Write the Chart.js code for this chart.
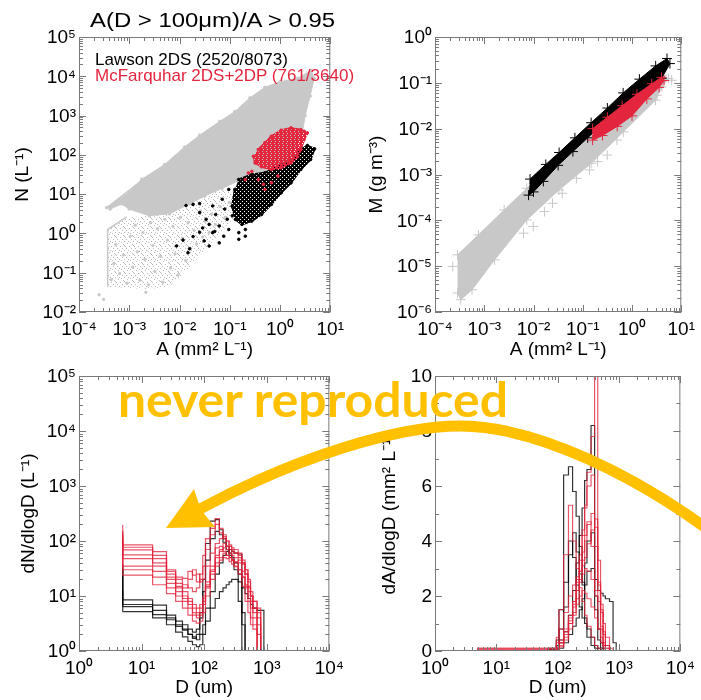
<!DOCTYPE html>
<html>
<head>
<meta charset="utf-8">
<script src="https://cdn.jsdelivr.net/npm/chart.js@4.4.1/dist/chart.umd.min.js"></script>
<style>
html, body { margin: 0; padding: 0; background: #fff; }
#page { position: relative; width: 701px; height: 700px; overflow: hidden; }
#page canvas { position: absolute; }
#overlay { position: absolute; left: 0; top: 0; pointer-events: none; font-family: 'Liberation Sans', Arial, sans-serif; }
</style>
</head>
<body>
<div id="page">
  <canvas id="cNA" width="350" height="365" style="left:0px;top:0px"></canvas>
  <canvas id="cMA" width="351" height="365" style="left:350px;top:0px"></canvas>
  <canvas id="cDN" width="350" height="345" style="left:0px;top:355px"></canvas>
  <canvas id="cDA" width="351" height="345" style="left:350px;top:355px"></canvas>
  <svg id="overlay" width="701" height="700">
    <text x="90" y="27" font-size="21" textLength="245" lengthAdjust="spacingAndGlyphs">A(D &gt; 100μm)/A &gt; 0.95</text>
    <text x="95" y="65" font-size="17">Lawson 2DS (2520/8073)</text>
    <text x="95" y="81" font-size="17" fill="#e3263e">McFarquhar 2DS+2DP (761/3640)</text>
    <path d="M 706 528 C 640 480 540 426 460 426 C 400 426 300 455 200 509" stroke="#FFC000" stroke-width="11" fill="none"/>
    <polygon points="166,528 194,489 201,510 215,527" fill="#FFC000"/>
    <text x="118" y="417" font-family="Lato" font-weight="bold" font-size="47" fill="#FFC000" textLength="390" lengthAdjust="spacingAndGlyphs">never reproduced</text>
  </svg>
</div>
<script>
// tick labels
const aTicks = [1e-4, 1e-3, 1e-2, 1e-1, 1, 10];
const aLabels = ['10⁻⁴', '10⁻³', '10⁻²', '10⁻¹', '10⁰', '10¹'];
const nTicks = [1e-2, 1e-1, 1, 10, 1e2, 1e3, 1e4, 1e5];
const nLabels = ['10⁻²', '10⁻¹', '10⁰', '10¹', '10²', '10³', '10⁴', '10⁵'];
const mTicks = [1e-6, 1e-5, 1e-4, 1e-3, 1e-2, 1e-1, 1];
const mLabels = ['10⁻⁶', '10⁻⁵', '10⁻⁴', '10⁻³', '10⁻²', '10⁻¹', '10⁰'];
const dTicks = [1, 10, 100, 1000, 10000];
const dLabels = ['10⁰', '10¹', '10²', '10³', '10⁴'];
const dnTicks = [1, 10, 100, 1e3, 1e4, 1e5];
const dnLabels = ['10⁰', '10¹', '10²', '10³', '10⁴', '10⁵'];
const daTicks = [0, 2, 4, 6, 8, 10];
const daLabels = ['0', '2', '4', '6', '8', '10'];

// top left: N vs A, pairs are [log10 A, log10 N]
const allNCore = [[-3.45,0.66],[-3.0,1.05],[-2.75,1.38],[-2.3,1.75],[-1.9,2.2],[-1.6,2.5],[-1.2,2.85],[-0.9,3.1],[-0.6,3.45],[-0.3,3.72],[0.0,3.86],[0.35,3.95],[0.62,4.15],[0.68,3.95],[0.6,3.5],[0.5,3.0],[0.45,2.6],[0.2,1.9],[-0.4,1.45],[-0.8,1.35],[-1.15,1.15],[-1.5,0.95],[-1.8,0.75],[-2.2,0.5],[-2.6,0.45],[-3.0,0.62],[-3.15,0.75],[-3.38,0.62]];
const allNSparse = [[-3.43,0.1],[-3.08,0.4],[-2.6,0.45],[-2.2,0.5],[-1.8,0.75],[-1.5,0.95],[-1.15,1.15],[-0.8,1.0],[-0.9,0.4],[-1.2,0.0],[-1.52,-0.47],[-1.85,-0.92],[-2.18,-1.33],[-2.6,-1.42],[-3.43,-1.36]];
const allNEdge = [[-3.05,0.42],[-3.43,0.1],[-3.43,-1.36]];
const allNStreak = [[-3.46,0.64],[-2.8,1.3]];
const allNDots = [[-3.60,-1.56],[-3.51,-1.68],[-2.67,-1.50],[-3.36,-1.18],[-3.31,-0.77],[-3.27,-0.28],[-3.19,-1.02],[-3.12,-0.55],[-3.04,-1.27],[-2.98,-0.08],[-2.93,-0.86],[-2.88,0.21],[-2.84,-0.47],[-2.79,-1.19],[-2.73,0.02],[-2.69,-0.66],[-2.62,-1.31],[-2.58,0.28],[-2.53,-0.31],[-2.49,-0.97],[-2.44,0.12],[-2.38,-0.58],[-2.33,-1.24],[-2.29,0.36],[-2.24,-0.17],[-2.18,-0.88],[-2.13,0.18],[-2.09,-0.52],[-2.03,-1.06],[-1.98,0.41],[-1.94,-0.12],[-1.88,-0.69],[-1.83,0.27],[-1.78,-0.38],[-1.71,0.08],[-1.66,-0.27],[-1.58,0.57],[-1.54,-0.09],[-1.49,0.31],[-1.41,0.03],[-1.36,0.49],[-1.28,0.22],[-1.19,0.68],[-1.09,0.41],[-1.01,0.79],[-0.92,0.58]];
const lawsonNCore = [[-0.823,1.373],[-0.562,1.50],[-0.302,1.542],[-0.042,1.712],[0.219,1.839],[0.414,2.135],[0.544,2.237],[0.688,2.152],[0.609,1.881],[0.414,1.627],[0.219,1.288],[0.023,1.034],[-0.172,0.738],[-0.367,0.483],[-0.562,0.314],[-0.758,0.229],[-0.888,0.356],[-0.953,0.695],[-0.9,1.119]];
const lawsonNDots = [[-2.06,-0.32],[-1.83,-0.49],[-1.80,-0.39],[-1.93,-0.17],[-1.60,0.03],[-1.51,-0.19],[-1.41,-0.32],[-1.34,0.02],[-1.21,0.19],[-1.12,-0.07],[-1.05,0.36],[-1.02,0.10],[-1.28,0.48],[-1.47,0.36],[-1.54,0.14],[-1.73,-0.08],[-1.34,0.70],[-1.87,0.71],[-1.73,0.74],[-1.60,0.76],[-0.82,0.02],[-0.69,0.10],[-1.15,0.87],[-1.02,1.12],[-0.82,-0.15],[-1.60,0.53],[-1.21,-0.24],[-0.69,-0.07],[-1.41,0.23],[-0.95,0.45],[-1.10,0.62],[-0.88,0.85],[-1.30,0.05]];
const mcfNCore = [[-0.432,2.135],[-0.302,2.305],[-0.172,2.474],[0.023,2.627],[0.219,2.686],[0.414,2.643],[0.544,2.559],[0.479,2.389],[0.414,2.135],[0.349,1.949],[0.219,1.796],[0.023,1.669],[-0.172,1.627],[-0.367,1.695],[-0.497,1.796],[-0.53,1.966]];
const mcfNDots = [[-0.63,1.54],[-0.43,1.37],[-0.30,1.12],[-0.69,1.37],[-0.17,1.29],[-0.56,1.58],[0.48,2.60],[-0.04,1.46],[-0.33,1.25]];

// top right: M vs A, pairs are [log10 A, log10 M]
const allMBand = [[-3.542,-4.752],[-3.118,-4.317],[-2.595,-3.773],[-2.137,-3.301],[-1.484,-2.685],[-0.830,-2.104],[-0.176,-1.451],[0.477,-0.944],[0.608,-0.835],[0.739,-0.907],[0.608,-1.089],[0.477,-1.379],[-0.176,-2.068],[-0.830,-2.757],[-1.484,-3.337],[-2.137,-3.99],[-2.791,-4.861],[-3.248,-5.514],[-3.477,-5.731],[-3.542,-5.586]];
const allMPlus = [[-3.64,-5.006],[0.804,-0.944],[0.51,-1.27],[-0.307,-2.249],[-0.503,-2.576],[-0.699,-2.72],[-0.863,-2.90],[-1.124,-3.084],[-1.418,-3.41],[-1.614,-3.628],[-1.778,-3.809],[-2.006,-4.135],[-2.203,-4.281]];
const lawsonMBand = [[-2.07,-3.10],[-1.75,-2.78],[-1.48,-2.52],[-1.16,-2.2],[-0.83,-1.87],[-0.5,-1.55],[-0.18,-1.22],[0.15,-0.92],[0.48,-0.63],[0.71,-0.47],[0.77,-0.58],[0.6,-0.9],[0.3,-1.1],[0.0,-1.35],[-0.3,-1.6],[-0.6,-1.9],[-0.9,-2.2],[-1.2,-2.5],[-1.5,-2.8],[-1.8,-3.15],[-2.0,-3.38],[-2.1,-3.45]];
const mcfMBand = [[-0.8,-2.0],[-0.5,-1.75],[-0.2,-1.5],[0.1,-1.25],[0.4,-1.02],[0.6,-0.88],[0.65,-0.95],[0.55,-1.1],[0.3,-1.35],[0.0,-1.72],[-0.3,-1.95],[-0.6,-2.15],[-0.8,-2.25]];

// size bins (um)
const dEdges = [5,15,25,35,45,55,65,75,85,95,105,125,150,175,200,225,250,275,300,350,400,450,500,550,600,700,800,900,1000];

// bottom left: dN/dlogD (L^-1) per bin, starting at the 5-15 um bin
const lawsonDN = [
  [38,8.5,6.8,4.5,3.5,3.0,2.5,2.2,2.5,5,20,90,230,245,160,110,80,60,45,30,8,0.5],
  [35,7,5.5,4.0,3.0,2.5,2.0,1.8,1.6,2,3,6,12,25,40,55,65,70,65,60,58,5,0.5],
  [30.5,6.4,4.6,3.7,2.8,2.4,2.0,1.7,2.0,4,12,45,110,150,130,95,70,55,50,40,25,3,0.5],
  [12.5,5.2,4.0,3.0,2.2,1.8,1.5,1.3,1.2,1.3,2,3.5,6,9,12,14,16,18,20,20,18,14,11,9,7,6,5.5,5.5]
];
const mcfDN = [
  [195,85,64,30,22,21,28,24,18,20,35,70,130,255,170,120,100,85,75,70,60,40,25,15,10,6,4],
  [154,77,55,28,20,16,14,12,14,25,55,110,170,200,140,110,80,60,45,35,25,15,8,5,3,2.5,2],
  [142,69,48,25,17,14,20,30,25,18,20,35,60,90,110,130,100,80,70,60,55,45,30,18,10,6],
  [128,56,40,22,15,12,9,7,6,7,10,18,30,50,70,90,80,70,65,60,50,40,30,20,12,8,5],
  [107,48,35,20,14,10,8,6,5,6,9,15,25,40,50,60,55,50,45,40,30,22,16,12,10,8,6],
  [97,35,28,17,12,9,7,5,4.5,5,8,16,35,75,80,65,55,50,45,42,45,38,25,14,8,5],
  [91,30,22,14,10,8,6,4.5,4,4.5,7,14,28,55,65,75,70,60,55,50,40,28,15,8,4,3],
  [69,24,16,11,8,6,4.5,3.5,3.2,3.5,5,10,20,35,45,50,48,42,38,34,30,22,14,9,6,4,3]
];

// bottom right: dA/dlogD (mm2 L^-1) per bin, starting at the 95-105 um bin
const lawsonDA = [
  [0.1,0.4,1.5,6.4,6.7,5.8,4.9,3.8,2.5,1.2,0.5,0.2,0.1,0,0,0,0,0,0],
  [0.05,0.1,0.3,0.7,1.3,2.2,3.2,4.2,5.2,6.2,6.6,8.2,1.5,0.4,0.1,0,0,0,0],
  [0,0.1,0.4,1.6,3.5,4.3,3.6,2.8,2.4,3.2,4.0,4.3,2.0,0.8,0.3,0.1,0,0,0],
  [0,0.05,0.1,0.3,0.6,0.9,1.2,1.5,1.9,2.4,2.9,3.0,2.6,2.2,2.1,2.0,1.9,1.8,0.3],
  [0.05,0.2,0.8,2.5,4.0,3.4,2.4,1.6,1.2,1.0,0.8,0.5,0.2,0.1,0,0,0,0,0]
];
const mcfDA = [
  [0,0.1,0.3,0.7,1.2,1.8,2.5,3.3,4.2,5.2,6.5,7.8,12,2.5,0.8,0.2,0,0,0],
  [0.1,0.5,1.5,3.5,5.3,4.0,3.0,2.3,1.8,1.3,0.9,0.5,0.2,0.1,0,0,0,0,0],
  [0,0.1,0.2,0.5,1.0,1.7,2.6,3.5,4.4,5.3,6.0,6.4,4.5,2.2,0.9,0.3,0.1,0,0],
  [0,0.05,0.15,0.4,0.8,1.3,1.9,2.6,3.3,4.0,4.6,5.0,3.8,2.4,1.5,0.7,0.2,0,0],
  [0.05,0.15,0.4,0.8,1.3,1.8,2.2,2.5,2.8,3.0,2.9,2.6,2.2,1.8,1.4,1.0,0.5,0.1,0],
  [0,0.1,0.3,0.6,1.0,1.4,1.7,2.0,2.2,2.1,1.9,1.6,1.2,0.8,0.5,0.2,0.1,0,0],
  [0,0.1,0.3,0.7,1.1,1.6,2.2,2.9,3.6,4.2,4.7,3.8,2.0,0.8,0.3,0.1,0,0,0],
  [0.1,0.3,0.8,1.4,2.0,2.4,2.7,2.9,3.1,3.4,3.9,4.4,4.8,3.3,1.7,0.6,0.2,0,0]
];
const areaFirstBin = 9;          // index of the 95 um edge
const mcfSpan = [5, 6000];       // zero line extent of the red curves
const lawsonSpan = [70, 1300];

const GRAY = '#c8c8c8', BLACK = '#000000', RED = '#e3263e';
const TXT = "'Liberation Sans', Arial, sans-serif";

// small repeating dot textures so filled clouds read as scattered points
function speckle(color, size, cells) {
  const c = document.createElement('canvas');
  c.width = c.height = size;
  const g = c.getContext('2d');
  g.fillStyle = color;
  cells.forEach(p => g.fillRect(p[0], p[1], 1, 1));
  return g.createPattern(c, 'repeat');
}
const sparseTex = speckle('#bababa', 9, [[1,0],[6,1],[3,3],[8,3],[0,5],[5,5],[2,7],[7,7],[4,8],[7,2]]);
const blackTex = speckle(BLACK, 4, [[0,0],[1,0],[2,0],[3,0],[0,1],[1,1],[3,1],[0,2],[1,2],[2,2],[3,2],[1,3],[2,3],[3,3]]);
const redTex = speckle(RED, 4, [[0,0],[1,0],[2,0],[3,0],[0,1],[1,1],[2,1],[0,2],[1,2],[2,2],[3,2],[0,3],[1,3],[3,3]]);

function logPts(pairs) { return pairs.map(p => ({ x: 10 ** p[0], y: 10 ** p[1] })); }

function blob(pairs, fillStyle, color, order, style, r, bw) {
  return { data: logPts(pairs), showLine: true, fill: 'shape', backgroundColor: fillStyle, borderColor: fillStyle,
    borderWidth: bw, pointStyle: style, pointRadius: r, pointBackgroundColor: color, pointBorderColor: color,
    pointBorderWidth: 1, order };
}
function dots(pairs, color, order, style, r) {
  return { data: logPts(pairs), showLine: false, pointStyle: style, pointRadius: r,
    pointBackgroundColor: color, pointBorderColor: color, pointBorderWidth: 1, order };
}
function edge(pairs, color, order) {
  return { data: logPts(pairs), showLine: true, borderColor: color, borderWidth: 1.5, pointRadius: 0, order };
}

function stepsN(vals) {
  const d = vals.map((v, i) => ({ x: dEdges[i], y: v }));
  d.push({ x: dEdges[vals.length], y: 0.01 });
  return d;
}
function stepsA(vals, span) {
  const e = dEdges.slice(areaFirstBin);
  const d = [{ x: span[0], y: 0 }];
  vals.forEach((v, i) => d.push({ x: e[i], y: v }));
  d.push({ x: e[vals.length], y: 0 });
  d.push({ x: span[1], y: 0 });
  return d;
}
function histo(data, color, order) {
  return { data, showLine: true, stepped: 'after', borderColor: color, borderWidth: 1.2, pointRadius: 0, order };
}

function logMinors(lo, hi) {
  const out = [];
  for (let e = lo; e < hi; e++) for (let k = 2; k <= 9; k++) out.push(k * 10 ** e);
  return out;
}

// closed frame with inward ticks on all four sides
const boxTicks = {
  id: 'boxTicks',
  afterDatasetsDraw(chart, args, o) {
    const { ctx, chartArea: a } = chart;
    const sx = chart.scales.x, sy = chart.scales.y;
    ctx.save();
    ctx.strokeStyle = '#7a7a7a';
    ctx.lineWidth = 1;
    ctx.beginPath();
    const mark = (list, len, horiz) => list.forEach(v => {
      if (horiz) {
        const p = Math.round(sx.getPixelForValue(v)) + 0.5;
        ctx.moveTo(p, a.bottom); ctx.lineTo(p, a.bottom - len);
        ctx.moveTo(p, a.top); ctx.lineTo(p, a.top + len);
      } else {
        const p = Math.round(sy.getPixelForValue(v)) + 0.5;
        ctx.moveTo(a.left, p); ctx.lineTo(a.left + len, p);
        ctx.moveTo(a.right, p); ctx.lineTo(a.right - len, p);
      }
    });
    mark(o.xMajor, 7, true); mark(o.xMinor, 4, true);
    mark(o.yMajor, 7, false); mark(o.yMinor, 4, false);
    ctx.stroke();
    ctx.strokeRect(a.left + 0.5, a.top + 0.5, a.right - a.left - 1, a.bottom - a.top - 1);
    ctx.restore();
  }
};

function axis(spec, horiz, frame) {
  return {
    type: spec.type, min: spec.min, max: spec.max, position: horiz ? 'bottom' : 'left',
    afterFit: s => { if (horiz) s.height = frame.xh; else s.width = frame.yw; },
    afterBuildTicks: s => { s.ticks = spec.vals.map(v => ({ value: v })); },
    grid: { display: false, drawTicks: false },
    border: { display: false },
    ticks: { autoSkip: false, maxRotation: 0, minRotation: 0, color: '#000',
      padding: horiz ? 6 : 3, labelOffset: horiz ? 0 : 1,
      font: { family: TXT, size: 19 }, callback: (v, i) => spec.labels[i] },
    title: { display: true, text: spec.title, color: '#000', font: { family: TXT, size: 19 },
      padding: horiz ? { top: 0, bottom: frame.tb } : { top: frame.tl, bottom: 0 } }
  };
}

function panel(id, datasets, xs, ys, frame, ticks) {
  return new Chart(document.getElementById(id), {
    type: 'scatter',
    data: { datasets },
    options: {
      responsive: false, animation: false, events: [],
      layout: { autoPadding: false, padding: frame.pad },
      plugins: { legend: { display: false }, tooltip: { enabled: false }, boxTicks: ticks },
      scales: { x: axis(xs, true, frame), y: axis(ys, false, frame) }
    },
    plugins: [boxTicks]
  });
}

const aAxis = { type: 'logarithmic', min: 1e-4, max: 10, vals: aTicks, labels: aLabels, title: 'A (mm² L⁻¹)' };
const dAxis = { type: 'logarithmic', min: 1, max: 1e4, vals: dTicks, labels: dLabels, title: 'D (um)' };

panel('cNA', [
  blob(mcfNCore, redTex, RED, 0, 'circle', 1.3, 2),
  dots(mcfNDots, RED, 0, 'circle', 1.3),
  blob(lawsonNCore, blackTex, BLACK, 1, 'circle', 1.3, 2),
  dots(lawsonNDots, BLACK, 1, 'circle', 1.3),
  dots(allNDots, GRAY, 3, 'circle', 1.2),
  edge(allNStreak, GRAY, 3),
  edge(allNEdge, GRAY, 3),
  blob(allNCore, GRAY, GRAY, 4, 'circle', 1.3, 1),
  blob(allNSparse, sparseTex, GRAY, 5, 'circle', 0, 0)
], aAxis,
{ type: 'logarithmic', min: 1e-2, max: 1e5, vals: nTicks, labels: nLabels, title: 'N (L⁻¹)' },
{ pad: { left: 0, top: 37, right: 15, bottom: 0 }, yw: 79, xh: 53, tl: 11.6, tb: 3.6 },
{ xMajor: aTicks, xMinor: logMinors(-4, 1), yMajor: nTicks, yMinor: logMinors(-2, 5) });

panel('cMA', [
  blob(mcfMBand, RED, RED, 0, 'cross', 5, 1),
  blob(lawsonMBand, BLACK, BLACK, 1, 'cross', 5, 1),
  dots(allMPlus, GRAY, 2, 'cross', 5),
  blob(allMBand, GRAY, GRAY, 3, 'cross', 5, 1)
], aAxis,
{ type: 'logarithmic', min: 1e-6, max: 1, vals: mTicks, labels: mLabels, title: 'M (g m⁻³)' },
{ pad: { left: 0, top: 37, right: 11, bottom: 0 }, yw: 85, xh: 53, tl: 15.6, tb: 3.6 },
{ xMajor: aTicks, xMinor: logMinors(-4, 1), yMajor: mTicks, yMinor: logMinors(-6, 0) });

panel('cDN', [
  ...mcfDN.map(v => histo(stepsN(v), 'rgba(226,30,55,0.75)', 0)),
  ...lawsonDN.map(v => histo(stepsN(v), 'rgba(0,0,0,0.8)', 1))
], dAxis,
{ type: 'logarithmic', min: 1, max: 1e5, vals: dnTicks, labels: dnLabels, title: 'dN/dlogD (L⁻¹)' },
{ pad: { left: 0, top: 21, right: 16, bottom: 0 }, yw: 79, xh: 49, tl: 17.6, tb: 1 },
{ xMajor: dTicks, xMinor: logMinors(0, 4), yMajor: dnTicks, yMinor: logMinors(0, 5) });

panel('cDA', [
  ...mcfDA.map(v => histo(stepsA(v, mcfSpan), 'rgba(226,30,55,0.75)', 0)),
  ...lawsonDA.map(v => histo(stepsA(v, lawsonSpan), 'rgba(0,0,0,0.8)', 1))
], dAxis,
{ type: 'linear', min: 0, max: 10, vals: daTicks, labels: daLabels, title: 'dA/dlogD (mm² L⁻¹)' },
{ pad: { left: 0, top: 21, right: 11, bottom: 0 }, yw: 85, xh: 49, tl: 28.6, tb: 1 },
{ xMajor: dTicks, xMinor: logMinors(0, 4), yMajor: daTicks, yMinor: [1, 3, 5, 7, 9] });
</script>
</body>
</html>
